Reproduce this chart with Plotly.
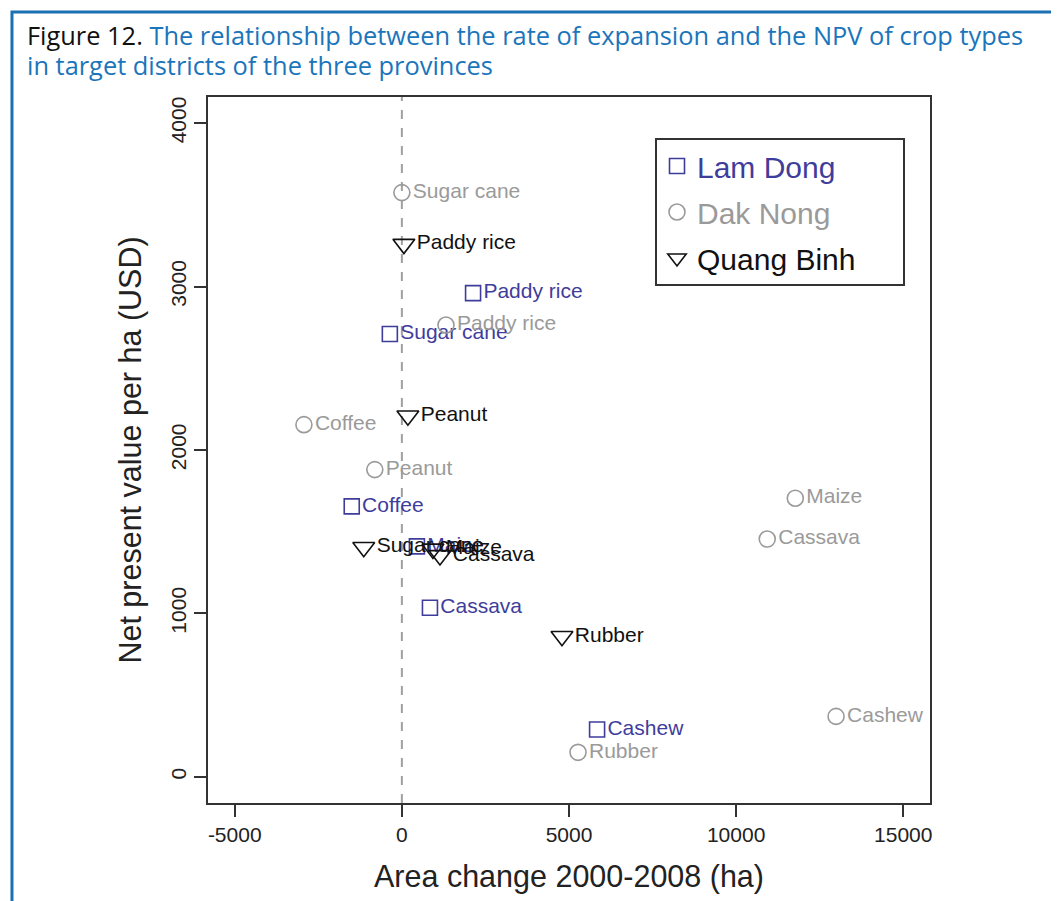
import plotly.graph_objects as go

# ---- data ----
lam_crops = ["Paddy rice", "Sugar cane", "Coffee", "Maize", "Cassava", "Cashew"]
lam_x = [2130, -360, -1500, 450, 840, 5840]
lam_y = [2960, 2710, 1655, 1410, 1035, 290]

dak_crops = ["Sugar cane", "Paddy rice", "Coffee", "Peanut", "Maize", "Cassava", "Cashew", "Rubber"]
dak_x = [0, 1320, -2930, -810, 11770, 10930, 12990, 5270]
dak_y = [3575, 2765, 2155, 1880, 1705, 1455, 370, 150]

qb_crops = ["Paddy rice", "Peanut", "Sugar cane", "Maize", "Cassava", "Rubber"]
qb_x = [60, 180, -1140, 930, 1140, 4790]
qb_y = [3260, 2210, 1405, 1395, 1355, 860]

x_ticks = [-5000, 0, 5000, 10000, 15000]
y_ticks = [0, 1000, 2000, 3000, 4000]

LAM_C = "#3f3d9c"
DAK_C = "#9a9a9a"
QB_C = "#111111"
FONT = "Liberation Sans, Arial, sans-serif"
TITLE_BLUE = "#1b75bb"

fig = go.Figure()

def add(name, xs, ys, labels, color, symbol, size, group):
    fig.add_trace(go.Scatter(
        x=xs, y=ys, mode="markers+text", text=labels,
        textposition="middle right",
        textfont=dict(family=FONT, size=21, color=color),
        marker=dict(symbol=symbol, size=size, color=color,
                    line=dict(color=color, width=1.6)),
        name=f"<span style='color:{color}'>{name}</span>&nbsp;&nbsp;&nbsp;&nbsp;&nbsp;",
        legendgroup=group,
        cliponaxis=False,
    ))

add("Lam Dong", lam_x, lam_y, lam_crops, LAM_C, "square-open", 15, "a")
add("Dak Nong", dak_x, dak_y, dak_crops, DAK_C, "circle-open", 16, "b")
add("Quang Binh", qb_x, qb_y, qb_crops, QB_C, "triangle-down-open", 19, "c")

# zero reference line
fig.add_shape(type="line", xref="x", yref="paper", x0=0, x1=0, y0=0, y1=1,
              line=dict(color="#a0a0a0", width=2, dash="dash"), layer="below")

# blue outer frame
fig.add_shape(type="rect", xref="paper", yref="paper",
              x0=-0.2715, x1=1.25, y0=-0.3, y1=1.1204,
              line=dict(color="#1b6fb3", width=3))

# title (two lines)
fig.add_annotation(
    xref="paper", yref="paper", x=-0.2535, y=1.0878, xanchor="left", yanchor="middle",
    showarrow=False, align="left",
    text=f"<span style='color:#111'>Figure 12.</span> <span style='color:{TITLE_BLUE}'>The relationship between the rate of expansion and the NPV of crop types</span>",
    font=dict(family="Open Sans", size=25.4, color=TITLE_BLUE),
)
fig.add_annotation(
    xref="paper", yref="paper", x=-0.2535, y=1.0453, xanchor="left", yanchor="middle",
    showarrow=False, align="left",
    text="in target districts of the three provinces",
    font=dict(family="Open Sans", size=25.4, color=TITLE_BLUE),
)

fig.update_layout(
    width=1051, height=893,
    margin=dict(l=200, r=129, t=89, b=98),
    paper_bgcolor="white", plot_bgcolor="white",
    showlegend=True,
    legend=dict(
        x=(655 - 208) / 722, y=(803 - 138) / 706, xanchor="left", yanchor="top",
        bordercolor="#333", borderwidth=2, bgcolor="white",
        font=dict(family=FONT, size=30),
        tracegroupgap=4,
        itemclick=False,
    ),
)

fig.update_xaxes(
    range=[-5800, 15800], tickvals=x_ticks, ticktext=[str(v) for v in x_ticks],
    showgrid=False, zeroline=False, showline=True, mirror=True,
    linecolor="#333", linewidth=2, ticks="outside", ticklen=12, tickwidth=2,
    tickcolor="#333", tickfont=dict(family=FONT, size=21, color="#222"),
    title=dict(text="Area change 2000-2008 (ha)", font=dict(family=FONT, size=30.5, color="#222"), standoff=20),
)
fig.update_yaxes(
    range=[-160, 4160], tickvals=y_ticks, ticktext=[str(v) for v in y_ticks],
    tickangle=-90,
    showgrid=False, zeroline=False, showline=True, mirror=True,
    linecolor="#333", linewidth=2, ticks="outside", ticklen=12, tickwidth=2,
    tickcolor="#333", tickfont=dict(family=FONT, size=21, color="#222"),
    title=dict(text="Net present value per ha (USD)", font=dict(family=FONT, size=30.5, color="#222"), standoff=16),
)

fig.write_html("out.html")
